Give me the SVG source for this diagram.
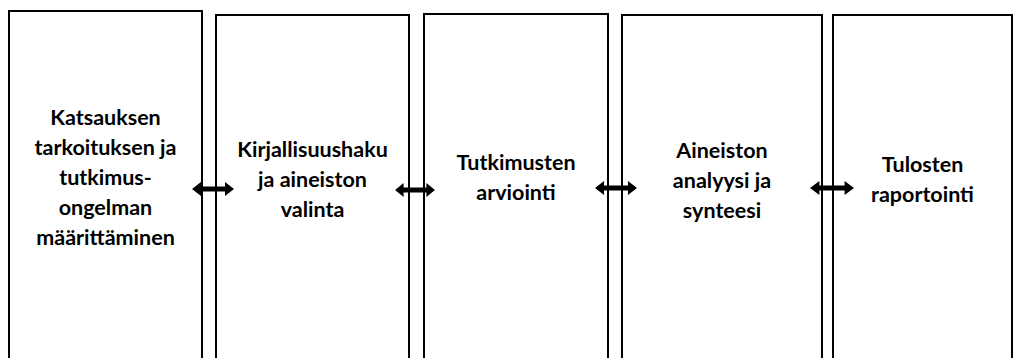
<svg xmlns="http://www.w3.org/2000/svg" xmlns:xlink="http://www.w3.org/1999/xlink" width="1014" height="358" viewBox="0 0 1014 358">
<style>
.box{fill:#fff;stroke:#000;stroke-width:2}
.t{font-family:Lato,"Liberation Sans",sans-serif;font-weight:bold;font-size:21.5px;fill:#000;text-anchor:middle}
.arr{fill:#000}
</style>
<defs>
<path id="dbl" d="M-21,0 L-12,-7 L-12,-2.5 L12,-2.5 L12,-7 L21,0 L12,7 L12,2.5 L-12,2.5 L-12,7 Z"/>
</defs>
<rect width="1014" height="358" fill="#fff"/>
<g id="node1"><rect class="box" x="9" y="11" width="193" height="360"/>
<text class="t"><tspan x="105.5" y="125">Katsauksen</tspan><tspan x="105.5" y="155">tarkoituksen ja</tspan><tspan x="105.5" y="185">tutkimus-</tspan><tspan x="105.5" y="215">ongelman</tspan><tspan x="105.5" y="245">määrittäminen</tspan></text></g>
<g id="node2"><rect class="box" x="216" y="15" width="193" height="360"/>
<text class="t"><tspan x="312.5" y="157">Kirjallisuushaku</tspan><tspan x="312.5" y="187">ja aineiston</tspan><tspan x="312.5" y="217">valinta</tspan></text></g>
<g id="node3"><rect class="box" x="424" y="14" width="184" height="360"/>
<text class="t"><tspan x="516" y="170">Tutkimusten</tspan><tspan x="516" y="200">arviointi</tspan></text></g>
<g id="node4"><rect class="box" x="622" y="15" width="200" height="360"/>
<text class="t"><tspan x="722" y="158">Aineiston</tspan><tspan x="722" y="188">analyysi ja</tspan><tspan x="722" y="218">synteesi</tspan></text></g>
<g id="node5"><rect class="box" x="833" y="15" width="179" height="360"/>
<text class="t"><tspan x="922.5" y="172">Tulosten</tspan><tspan x="922.5" y="202">raportointi</tspan></text></g>
<g id="connectors" class="arr">
<use xlink:href="#dbl" transform="translate(213,189)"/>
<use xlink:href="#dbl" transform="translate(415,190) scale(0.95,1)"/>
<use xlink:href="#dbl" transform="translate(616,188)"/>
<use xlink:href="#dbl" transform="translate(832,188) scale(1.05,1)"/>
</g>
</svg>
